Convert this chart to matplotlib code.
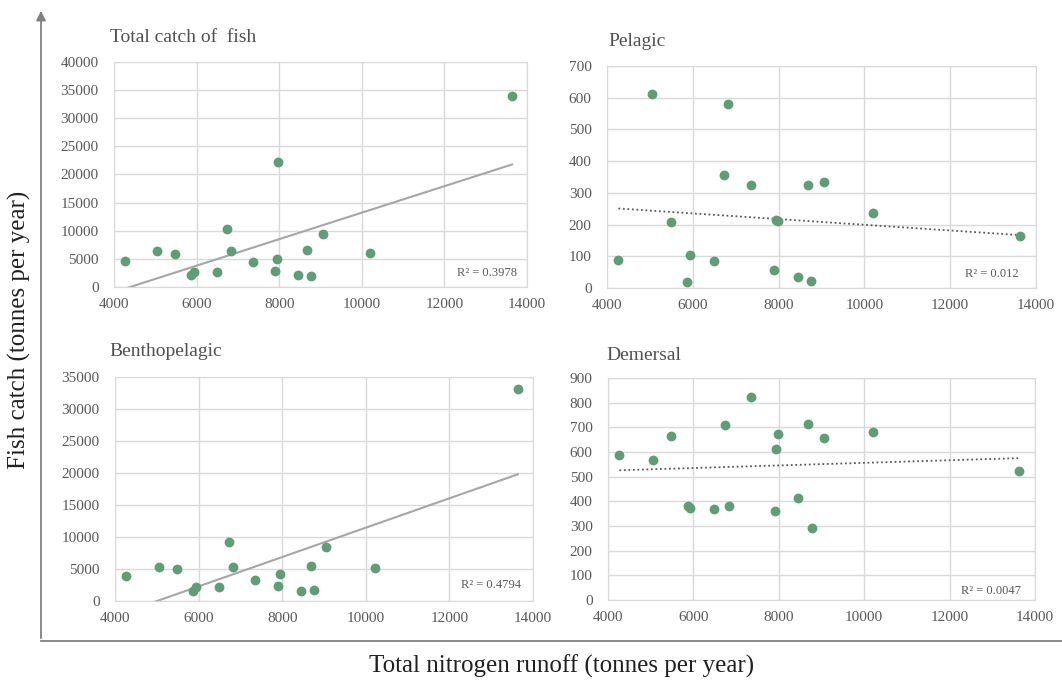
import numpy as np
import matplotlib
matplotlib.use("Agg")
import matplotlib.pyplot as plt

plt.rcParams['font.family'] = ['Liberation Serif', 'DejaVu Serif']

# ---- data ----
nitrogen = [4266, 5048, 5484, 5863, 5928, 6484, 6734, 6831, 7355, 7903,
            7944, 7976, 8444, 8678, 8766, 9049, 10210, 13637]
total_catch = [4700, 6400, 5800, 2200, 2700, 2700, 10250, 6350, 4450, 2850,
               5050, 22250, 2050, 6500, 1950, 9500, 6050, 33900]
pelagic = [88, 611, 208, 18, 105, 86, 355, 580, 326, 58,
           215, 210, 34, 326, 23, 333, 236, 165]
benthopelagic = [3900, 5250, 4950, 1600, 2250, 2250, 9150, 5250, 3300, 2400,
                 4150, np.nan, 1550, 5450, 1650, 8400, 5150, 33200]
demersal = [586, 567, 665, 382, 374, 368, 709, 380, 823, 360,
            614, 673, 414, 712, 292, 656, 682, 524]

titles = ["Total catch of  fish", "Pelagic", "Benthopelagic", "Demersal"]
r2_labels = ["R\u00b2 = 0.3978", "R\u00b2 = 0.012", "R\u00b2 = 0.4794", "R\u00b2 = 0.0047"]
y_max = [40000, 700, 35000, 900]
y_step = [5000, 100, 5000, 100]
x_ticks = [4000, 6000, 8000, 10000, 12000, 14000]
x_label = "Total nitrogen runoff (tonnes per year)"
y_label = "Fish catch (tonnes per year)"

series = [total_catch, pelagic, benthopelagic, demersal]
trend_styles = ["solid", "dotted", "solid", "dotted"]

# ---- layout (pixels) ----
W, H = 1062, 684
fig = plt.figure(figsize=(W / 100, H / 100), dpi=100)
fig.patch.set_facecolor("white")

# left, right, top, bottom in pixels
boxes = [(114, 527, 62, 287),
         (607, 1036, 66, 288),
         (115, 533, 377, 601),
         (608, 1035, 378, 600)]
title_pos = [(110, 37), (608, 42), (109, 351), (606, 355)]
r2_pos = [(517, 273), (1019, 274), (521, 585), (1021, 591)]

marker_color = "#5f9d76"
grid_color = "#d9d9d9"
tick_color = "#595959"

for i in range(4):
    l, r, t, b = boxes[i]
    ax = fig.add_axes([l / W, 1 - b / H, (r - l) / W, (b - t) / H])
    x = np.array(nitrogen, dtype=float)
    y = np.array(series[i], dtype=float)
    ax.scatter(x, y, s=50, color=marker_color, zorder=3, linewidths=0)
    m = ~np.isnan(y)
    coef = np.polyfit(x[m], y[m], 1)
    xx = np.array([x[m].min(), x[m].max()])
    if trend_styles[i] == "solid":
        ax.plot(xx, np.polyval(coef, xx), color="#a6a6a6", lw=1.5, zorder=2)
    else:
        ax.plot(xx, np.polyval(coef, xx), color="#595959", lw=1.3,
                linestyle=(0, (1, 1.5)), zorder=2)
    ax.set_xlim(4000, 14000)
    ax.set_ylim(0, y_max[i])
    ax.set_xticks(x_ticks)
    ax.set_yticks(np.arange(0, y_max[i] + 1, y_step[i]))
    ax.grid(True, color=grid_color, lw=1.0, zorder=0)
    for s in ax.spines.values():
        s.set_color(grid_color)
    ax.tick_params(length=0, labelsize=11, colors=tick_color)
    ax.tick_params(axis="y", pad=11)
    ax.tick_params(axis="x", pad=8)
    ax.set_axisbelow(True)
    ax.text(r2_pos[i][0] / W, 1 - r2_pos[i][1] / H, r2_labels[i],
            transform=fig.transFigure, ha="right", va="center",
            fontsize=9, color=tick_color)
    fig.text(title_pos[i][0] / W, 1 - title_pos[i][1] / H, titles[i],
             ha="left", va="center", fontsize=14, color="#505050")

# outer axis arrows
fig.add_artist(matplotlib.patches.FancyArrowPatch(
    (41 / W, 1 - 641 / H), (41 / W, 1 - 8 / H), transform=fig.transFigure,
    arrowstyle="-|>", mutation_scale=14, color="#808080", lw=1.3))
fig.add_artist(matplotlib.lines.Line2D(
    [41 / W, 1.0], [1 - 641 / H, 1 - 641 / H], transform=fig.transFigure,
    color="#808080", lw=1.3))

fig.text(19 / W, 1 - 330 / H, y_label, rotation=90, ha="center", va="center",
         fontsize=18, color="#202020")
fig.text(562 / W, 1 - 666 / H, x_label, ha="center", va="center",
         fontsize=18, color="#202020")

fig.savefig("out.png", dpi=100)
